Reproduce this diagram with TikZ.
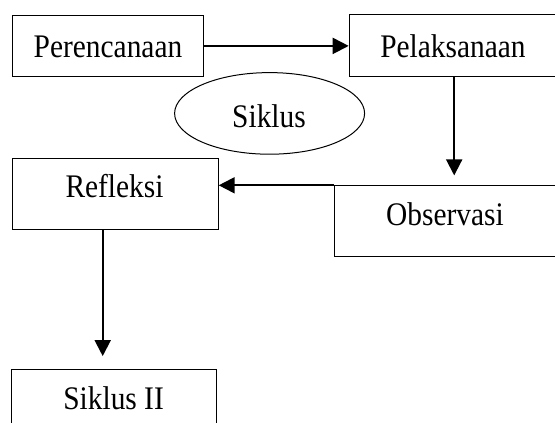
\documentclass[tikz,border=0pt]{standalone}
\usepackage{fontspec}
\setmainfont{Liberation Serif}
\usetikzlibrary{arrows.meta,shapes.geometric}
\newcommand{\txv}[1]{\scalebox{1}[1.12]{#1}}
\begin{document}
\begin{tikzpicture}[x=1pt,y=-1pt,
  box/.style={draw,line width=1pt,rectangle,inner sep=0pt,anchor=north west},
  lbl/.style={font=\fontsize{29.4}{32}\selectfont,anchor=base,inner sep=0pt},
  arr/.style={line width=2pt,-{Triangle[length=16pt,width=16pt]}}]
\useasboundingbox (0,0) rectangle (555,423);
\clip (0,0) rectangle (555,423);
% boxes
\node[box,minimum width=191pt,minimum height=61pt] (per) at (12.4,14.9) {};
\node[box,minimum width=240pt,minimum height=62.5pt] (pel) at (348.7,13.5) {};
\node[box,minimum width=206pt,minimum height=71pt] (ref) at (11.7,157.7) {};
\node[box,minimum width=260pt,minimum height=70.5pt] (obs) at (333.8,185.3) {};
\node[box,minimum width=205.4pt,minimum height=80pt] (sik2) at (10.6,369.2) {};
\node[draw,line width=1pt,ellipse,inner sep=0pt,minimum width=190pt,minimum height=81.6pt] (sik) at (269.6,113.4) {};
% labels
\node[lbl] (perT) at (108,57.7) {\txv{Perencanaan}};
\node[lbl] (pelT) at (453,57.7) {\txv{Pelaksanaan}};
\node[lbl] (sikT) at (269,127.4) {\txv{Siklus}};
\node[lbl] (refT) at (114.5,197.3) {\txv{Refleksi}};
\node[lbl] (obsT) at (445,225) {\txv{Observasi}};
\node[lbl] (sik2T) at (113.6,409.2) {\txv{Siklus II}};
% connectors
\coordinate (pelDown) at (454.2,175.4);
\coordinate (refDown) at (102.7,356.1);
\draw[arr] (per.east) -- (pel.west |- per.east);
\draw[arr] (pel.south -| pelDown) -- (pelDown);
\draw[arr] (obs.north west) -- (obs.north west -| ref.east);
\draw[arr] (ref.south -| refDown) -- (refDown);
\end{tikzpicture}
\end{document}
